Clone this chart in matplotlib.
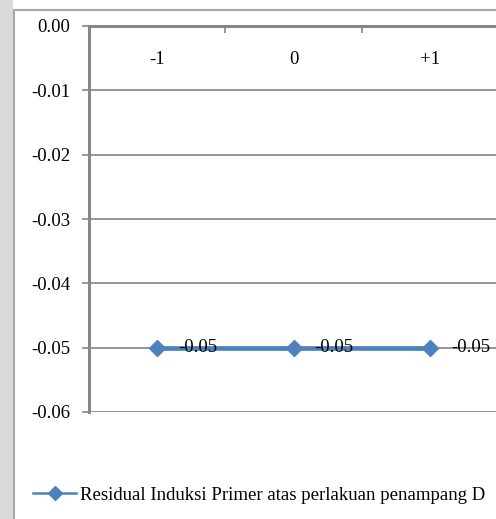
import matplotlib
matplotlib.use("Agg")
import matplotlib.pyplot as plt
from matplotlib.patches import Rectangle
from matplotlib.lines import Line2D
import matplotlib.transforms as mtransforms

categories = ["-1", "0", "+1"]
values = [-0.05, -0.05, -0.05]
y_ticks = [0.00, -0.01, -0.02, -0.03, -0.04, -0.05, -0.06]
series_name = "Residual Induksi Primer atas perlakuan penampang D"

W, H = 496, 519
DPI = 100
FS = 13.5
plt.rcParams['font.family'] = ['Liberation Serif', 'DejaVu Serif']

fig = plt.figure(figsize=(W / DPI, H / DPI), dpi=DPI)
fig.patch.set_facecolor('white')

def px(x, y):
    return x / W, 1 - y / H

# watermark-like left strip and chart frame
fig.patches.append(Rectangle((0, 0), 13 / W, 1, transform=fig.transFigure,
                             facecolor='#dadada', edgecolor='none', zorder=0))
x0, y0 = px(14, 10)
fig.patches.append(Rectangle((x0, -0.05), 1.1, y0 + 0.05, transform=fig.transFigure,
                             facecolor='white', edgecolor='#a8a8a8', linewidth=1.5, zorder=1))

left, top = 89, 26
right, bottom = 498, 412
ax = fig.add_axes([left / W, 1 - bottom / H, (right - left) / W, (bottom - top) / H])
ax.set_zorder(2)
ax.patch.set_alpha(0)

xs = list(range(len(categories)))
ax.plot(xs, values, color='#4F81BD', linewidth=3.4, marker='D', markersize=8,
        markerfacecolor='#4F81BD', markeredgecolor='#4F81BD', zorder=5, clip_on=False)

for x, v in zip(xs, values):
    ax.annotate(f"{v:.2f}", (x, v), xytext=(21, 0), textcoords='offset pixels',
                ha='left', va='center', fontsize=FS, color='black', zorder=6,
                annotation_clip=False)

ax.set_xlim(-0.5, len(categories) - 0.5)
ax.set_ylim(min(y_ticks), max(y_ticks))
ax.set_yticks(y_ticks)
ax.set_yticklabels([f"{t:.2f}" for t in y_ticks], fontsize=FS)
ax.tick_params(axis='y', direction='out', length=5, width=1.2, color='#868686', pad=8.5)
ax.yaxis.grid(True, color='#8c8c8c', linewidth=1.3)
ax.set_axisbelow(True)

# category axis at top (value 0), tick marks between categories
ax.xaxis.set_ticks_position('top')
ax.set_xticks([i + 0.5 for i in xs[:-1]])
ax.set_xticklabels([])
ax.tick_params(axis='x', direction='in', length=5, width=1.2, color='#868686')
trans = mtransforms.blended_transform_factory(ax.transData, ax.transAxes)
for x, c in zip(xs, categories):
    ax.text(x, 1 - 34 / (bottom - top), c, transform=trans, ha='center', va='center',
            fontsize=FS)

for s in ['bottom', 'right']:
    ax.spines[s].set_visible(False)
for s in ['top', 'left']:
    ax.spines[s].set_color('#868686')
    ax.spines[s].set_linewidth(2.2)

handle = Line2D([], [], color='#4F81BD', linewidth=1.8, marker='D', markersize=7.5,
                markerfacecolor='#4F81BD', markeredgecolor='#4F81BD')
lx, ly = px(33, 495)
fig.legend([handle], [series_name], loc='center left', bbox_to_anchor=(lx, ly),
           frameon=False, fontsize=FS, borderpad=0, borderaxespad=0,
           handlelength=43 / (FS * DPI / 72), handletextpad=0.22)

fig.savefig('out.png', dpi=DPI)
